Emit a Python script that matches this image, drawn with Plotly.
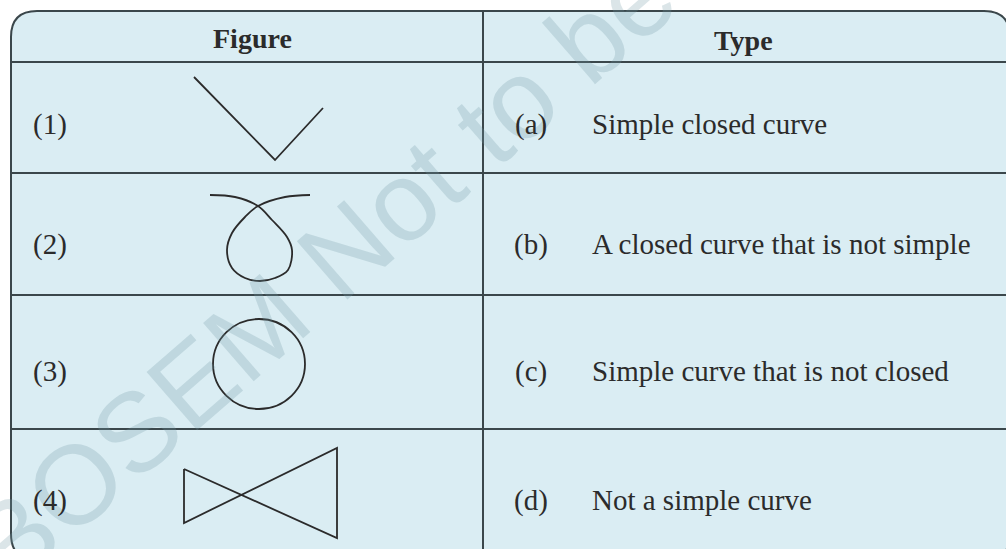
import plotly.graph_objects as go

W, H = 1006, 549

# --- table content ---
headers = ["Figure", "Type"]
figure_labels = ["(1)", "(2)", "(3)", "(4)"]
type_labels = ["(a)", "(b)", "(c)", "(d)"]
type_names = [
    "Simple closed curve",
    "A closed curve that is not simple",
    "Simple curve that is not closed",
    "Not a simple curve",
]
watermark = "BOSEM Not to be"

# --- the little drawings (pixel coords, y grows downward) ---
v_x = [194, 275, 323]
v_y = [77, 160, 108]

loop_x = [210, 235, 258, 272, 287, 292, 288, 275, 260, 245, 232, 227, 232, 245, 258, 285, 310]
loop_y = [195, 197, 206, 220, 237, 250, 270, 278, 281, 278, 268, 250, 233, 217, 206, 197, 195]

circle_box = [213, 319, 305, 409]  # x0, y0, x1, y1

bow_x = [184, 337, 337, 184, 184]
bow_y = [469, 538, 448, 523, 469]

# table grid
left, right, top, bottom, rad = 11, 1010, 11, 560, 26
col_split = 483
row_lines = [62, 173, 295, 429]
row_text_y = [124, 244, 371, 500]

BG = "#daedf3"
LINE = "#3b474b"
INK = "#2b2b2b"

fig = go.Figure()

fig.add_trace(go.Scatter(x=v_x, y=v_y, mode="lines",
                         line=dict(color=INK, width=1.8), hoverinfo="skip"))
fig.add_trace(go.Scatter(x=loop_x, y=loop_y, mode="lines",
                         line=dict(color=INK, width=1.8, shape="spline", smoothing=1.0),
                         hoverinfo="skip"))
fig.add_trace(go.Scatter(x=bow_x, y=bow_y, mode="lines",
                         line=dict(color=INK, width=1.8), hoverinfo="skip"))

shapes = []
outline = (f"M {left},{bottom - rad} L {left},{top + rad} Q {left},{top} {left + rad},{top} "
           f"L {right - rad},{top} Q {right},{top} {right},{top + rad} L {right},{bottom - rad} "
           f"Q {right},{bottom} {right - rad},{bottom} L {left + rad},{bottom} "
           f"Q {left},{bottom} {left},{bottom - rad} Z")
shapes.append(dict(type="path", path=outline, xref="x", yref="y", layer="below",
                   fillcolor=BG, line=dict(color=LINE, width=2)))
for ry in row_lines:
    shapes.append(dict(type="line", xref="x", yref="y", x0=left, x1=right, y0=ry, y1=ry,
                       line=dict(color=LINE, width=2), layer="below"))
shapes.append(dict(type="line", xref="x", yref="y", x0=col_split, x1=col_split, y0=top, y1=bottom,
                   line=dict(color=LINE, width=2), layer="below"))
shapes.append(dict(type="circle", xref="x", yref="y",
                   x0=circle_box[0], y0=circle_box[1], x1=circle_box[2], y1=circle_box[3],
                   line=dict(color=INK, width=1.8)))

annotations = []
# watermark first so the table text sits on top of it
annotations.append(dict(x=322, y=270, xref="x", yref="y", text=watermark, showarrow=False,
                        textangle=-41, font=dict(family="Liberation Sans", size=112,
                                                 color="rgba(110,150,165,0.25)")))

serif = "Liberation Serif"
annotations.append(dict(x=252, y=38, xref="x", yref="y", text=f"<b>{headers[0]}</b>",
                        showarrow=False, font=dict(family=serif, size=28, color=INK)))
annotations.append(dict(x=743, y=40, xref="x", yref="y", text=f"<b>{headers[1]}</b>",
                        showarrow=False, font=dict(family=serif, size=28, color=INK)))

for lab, ty in zip(figure_labels, row_text_y):
    annotations.append(dict(x=50, y=ty, xref="x", yref="y", text=lab, showarrow=False,
                            font=dict(family=serif, size=29, color=INK)))
for lab, name, ty in zip(type_labels, type_names, row_text_y):
    annotations.append(dict(x=531, y=ty, xref="x", yref="y", text=lab, showarrow=False,
                            font=dict(family=serif, size=29, color=INK)))
    annotations.append(dict(x=590, y=ty, xref="x", yref="y", text=name, showarrow=False,
                            xanchor="left", font=dict(family=serif, size=29, color=INK)))

fig.update_layout(
    width=W, height=H,
    margin=dict(l=0, r=0, t=0, b=0),
    paper_bgcolor="white", plot_bgcolor="white",
    showlegend=False,
    shapes=shapes, annotations=annotations,
    xaxis=dict(range=[0, W], visible=False, fixedrange=True),
    yaxis=dict(range=[H, 0], visible=False, fixedrange=True),
)

# the page body has an 8px default margin; drop it so the figure fills the window
fig.write_html("out.html", config={"displayModeBar": False},
               post_script="document.body.style.margin='0';")
